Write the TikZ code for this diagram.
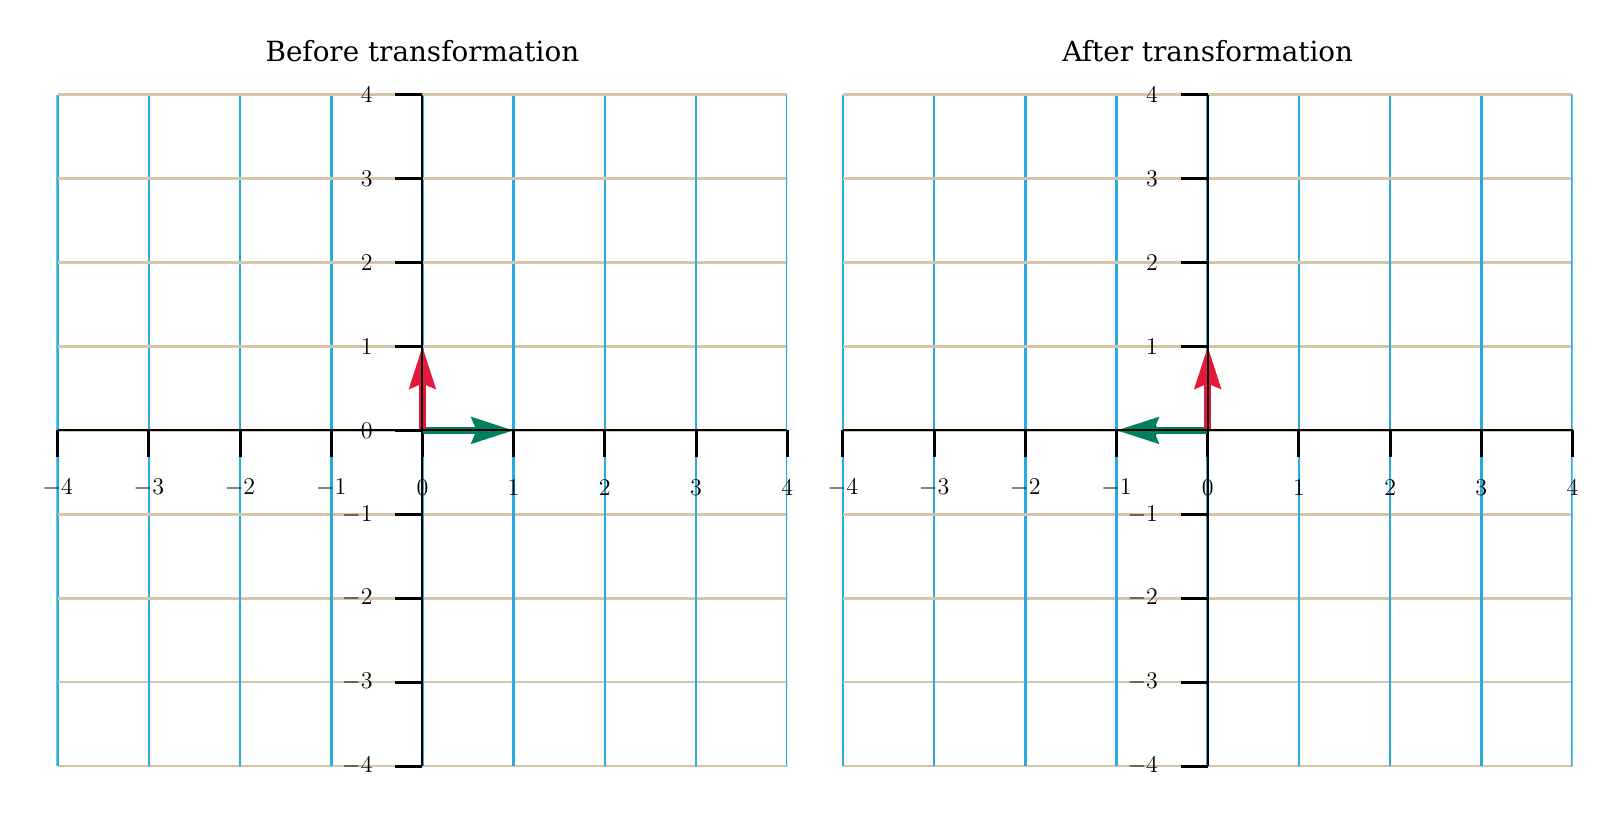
\documentclass[tikz,border=0pt]{standalone}
\usepackage[no-math]{fontspec}
\setmainfont{DejaVu Serif}
\usepackage{tikz}
\usetikzlibrary{arrows.meta}
\definecolor{gridblue}{RGB}{41,171,226}
\definecolor{gridtan}{RGB}{212,196,168}
\definecolor{vecred}{RGB}{228,24,58}
\definecolor{vecgreen}{RGB}{0,128,96}
\tikzset{
  vline/.style={draw=gridblue, line width=1.3pt},
  hline/.style={draw=gridtan, line width=1.3pt},
  axisline/.style={draw=black, line width=1pt},
  tickmark/.style={draw=black, line width=1.5pt},
  vec/.style={line width=3.5pt, -{Stealth[length=21pt,width=13pt,inset=2.5pt]}},
  xlab/.style={font=\fontsize{12}{14}\selectfont, inner sep=0pt, anchor=center, yshift=-28.8pt},
  ylab/.style={font=\fontsize{12}{14}\selectfont, inner sep=0pt, anchor=east, xshift=-24.7pt},
  paneltitle/.style={font=\fontsize{13.9}{16}\selectfont, inner sep=0pt, yshift=21.6pt}
}

\begin{document}
\begin{tikzpicture}
\useasboundingbox (0,0) rectangle (810pt,410pt);

% Left panel: before
\begin{scope}[shift={(211.2pt,194.8pt)}, x=45.6pt, y=41.95pt]
  \begin{scope}
    \clip ([xshift=-0.6pt]-4,-4) rectangle ([yshift=0.6pt]4,4);
    \foreach \i in {-4,...,4} {
      \draw[hline] (-4,\i) -- (4,\i);
      \draw[vline] (\i,-4) -- (\i,4);
    }
  \end{scope}
  \foreach \i in {-4,...,4} {
    \draw[tickmark] (\i,0) -- ++(0,-13.5pt);
    \node[xlab] (L-x\i) at (\i,0) {$\i$};
    \draw[tickmark] (0,\i) -- ++(-13.5pt,0);
    \node[ylab] (L-y\i) at (0,\i) {$\i$};
  }
  \coordinate (L-o) at (0,0);
  \coordinate (L-e1) at (1,0);
  \coordinate (L-e2) at (0,1);
  \draw[vec, vecgreen] (L-o) -- (L-e1);
  \draw[vec, vecred] (L-o) -- (L-e2);
  \draw[axisline] (-4,0) -- (4,0);
  \draw[axisline] (0,-4) -- (0,4);
  \node[paneltitle] (L-title) at (0,4) {Before transformation};
\end{scope}

% Right panel: after
\begin{scope}[shift={(603.85pt,194.8pt)}, x=45.6pt, y=41.95pt]
  \begin{scope}
    \clip ([xshift=-0.6pt]-4,-4) rectangle ([yshift=0.6pt]4,4);
    \foreach \i in {-4,...,4} {
      \draw[hline] (-4,\i) -- (4,\i);
      \draw[vline] (\i,-4) -- (\i,4);
    }
  \end{scope}
  \foreach \i in {-4,...,4} {
    \draw[tickmark] (\i,0) -- ++(0,-13.5pt);
    \node[xlab] (R-x\i) at (\i,0) {$\i$};
    \draw[tickmark] (0,\i) -- ++(-13.5pt,0);
    \node[ylab] (R-y\i) at (0,\i) {$\i$};
  }
  \coordinate (R-o) at (0,0);
  \coordinate (R-e1) at (-1,0);
  \coordinate (R-e2) at (0,1);
  \draw[vec, vecgreen] (R-o) -- (R-e1);
  \draw[vec, vecred] (R-o) -- (R-e2);
  \draw[axisline] (-4,0) -- (4,0);
  \draw[axisline] (0,-4) -- (0,4);
  \node[paneltitle] (R-title) at (0,4) {After transformation};
\end{scope}

\end{tikzpicture}
\end{document}
